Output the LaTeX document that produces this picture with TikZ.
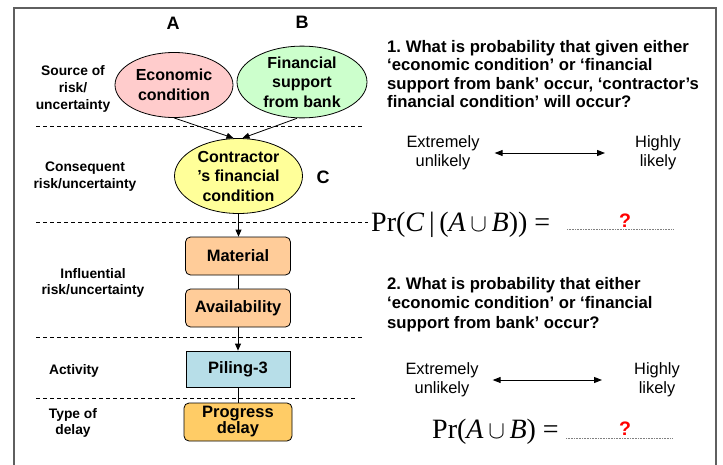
\documentclass[tikz,border=0pt]{standalone}
\usepackage{fontspec}
\setsansfont{Liberation Sans}
\newfontfamily\timesfont{Liberation Serif}
\usetikzlibrary{shapes.geometric,arrows.meta,positioning}

\definecolor{econpink}{RGB}{255,204,204}
\definecolor{bankgreen}{RGB}{204,255,204}
\definecolor{condyellow}{RGB}{255,255,153}
\definecolor{peach}{RGB}{255,204,153}
\definecolor{pilingblue}{RGB}{183,222,232}
\definecolor{delayorange}{RGB}{255,204,102}
\definecolor{framegray}{RGB}{95,95,95}

\begin{document}
\begin{tikzpicture}[
    x=1pt, y=-1pt,
    tier/.style={font=\sffamily\bfseries\fontsize{13.8}{16.8}\selectfont, align=center, inner sep=0pt},
    risk/.style={ellipse, draw, line width=0.8pt, inner sep=0pt, align=center, font=\sffamily\bfseries\fontsize{16}{19.5}\selectfont},
    factor/.style={rectangle, draw, rounded corners=5pt, fill=peach, line width=0.8pt, minimum width=105pt, minimum height=38pt, align=center, font=\sffamily\bfseries\fontsize{16.5}{16}\selectfont},
    letter/.style={font=\sffamily\bfseries\fontsize{18}{18}\selectfont, inner sep=0pt},
    question/.style={anchor=north west, align=left, inner sep=0pt, font=\frenchspacing\sffamily\bfseries\fontsize{16.7}{18.5}\selectfont},
    rating/.style={align=center, inner sep=0pt, font=\sffamily\fontsize{16.4}{19}\selectfont},
    prob/.style={anchor=base west, inner sep=0pt, font=\timesfont\fontsize{28}{28}\selectfont},
    unknown/.style={anchor=base, inner sep=0pt, text=red, font=\sffamily\bfseries\fontsize{19.5}{19.5}\selectfont},
    link/.style={-{Triangle[length=7pt,width=6pt]}, line width=0.8pt},
    likert/.style={{Triangle[length=8pt,width=6pt]}-{Triangle[length=8pt,width=6pt]}, line width=1pt},
    divider/.style={dash pattern=on 4pt off 3pt, line width=0.8pt},
    blank/.style={gray, dash pattern=on 0.8pt off 0.8pt, line width=0.8pt}
]
\useasboundingbox (0,0) rectangle (723,464);

% Frame
\draw[framegray, line width=1.5pt] (14,470) -- (14,8) -- (716,8) -- (716,470);

% Layer separators
\draw[divider] (36,126) -- (362,126);
\draw[divider] (36,222) -- (368,222);
\draw[divider] (36,337) -- (362,337);
\draw[divider] (36,398) -- (355,398);

% Layer labels
\node[tier] (source-lbl) at (73,89) {Source of\\risk/\\uncertainty};
\node[tier] (conseq-lbl) at (85,177) {Consequent\\risk/uncertainty};
\node[tier] (influ-lbl) at (93,283) {Influential\\risk/uncertainty};
\node[tier] (activity-lbl) at (74,371) {Activity};
\node[tier] (delay-lbl) at (73,423) {Type of\\delay};

% Risk events
\node[risk, fill=econpink, minimum width=118pt, minimum height=65pt] (econ) at (174,85) {Economic\\condition};
\node[risk, fill=bankgreen, minimum width=130pt, minimum height=70pt] (bank) at (302,82) {Financial\\support\\from bank};
\node[risk, fill=condyellow, minimum width=128pt, minimum height=75pt] (cond) at (238.5,176) {Contractor\\’s financial\\condition};

\node[letter] (econ-tag) at (173,23) {A};
\node[letter] (bank-tag) at (302,22) {B};
\node[letter] (cond-tag) at (323,177) {C};

% Chain down to the delay
\node[factor] (material) at (238,256) {Material};
\node[factor] (avail) at (238,308) {Availability};
\node[factor, sharp corners, fill=pilingblue, minimum width=104pt, minimum height=36pt] (piling) at (238,369) {Piling-3};
\node[factor, fill=delayorange, minimum width=108pt] (delay) at (238,422) {Progress\\delay};

\draw[link] (econ.south) -- ([xshift=-5pt]cond.north);
\draw[link] ([xshift=-5pt]bank.south) -- ([xshift=4pt]cond.north);
\draw[link] (cond.south) -- (cond.south |- material.north);
\draw[line width=0.8pt] (material) -- (avail);
\draw[link] (avail) -- (piling);
\draw[line width=0.8pt] (piling) -- (delay);

% Question 1
\node[question] (q1) at (387,40) {1. What is probability that given either\\‘economic condition’ or ‘financial\\support from bank’ occur, ‘contractor’s\\financial condition’ will occur?};
\node[rating] (ext1) at (443,153) {Extremely\\unlikely};
\node[rating] (high1) at (658,153) {Highly\\likely};
\draw[likert, shorten <=15pt, shorten >=30pt] (ext1) -- (high1);
\node[prob] (pr1) at (371,231.7) {Pr(\textit{C}\,|\,(\textit{A}\,$\cup$\,\textit{B})) =};
\draw[blank] (567,229) -- (673,229);
\node[unknown] (ans1) at (625,227) {?};

% Question 2
\node[question, font=\frenchspacing\sffamily\bfseries\fontsize{16.7}{19.5}\selectfont] (q2) at (387,277) {2. What is probability that either\\‘economic condition’ or ‘financial\\support from bank’ occur?};
\node[rating] (ext2) at (442,380) {Extremely\\unlikely};
\node[rating] (high2) at (657,380) {Highly\\likely};
\draw[likert, shorten <=14pt, shorten >=32pt] (ext2) -- (high2);
\node[prob] (pr2) at (432,438.3) {Pr(\textit{A}\,$\cup$\,\textit{B}) =};
\draw[blank] (566,438.5) -- (673,438.5);
\node[unknown] (ans2) at (625,435) {?};

\end{tikzpicture}
\end{document}
